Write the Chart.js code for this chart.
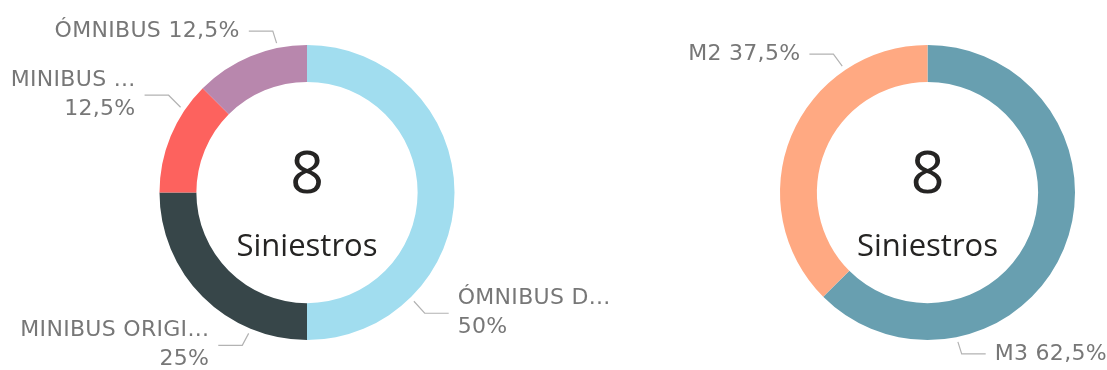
<!DOCTYPE html>
<html>
<head>
<meta charset="utf-8">
<script src="https://cdn.jsdelivr.net/npm/chart.js@4.4.1/dist/chart.umd.min.js"></script>
<style>
  html, body { margin: 0; padding: 0; background: #fff; }
  #wrap { position: relative; width: 1107px; height: 370px; }
  .box { position: absolute; top: 0; height: 370px; }
  #izq { left: 0; width: 614px; }
  #der { left: 614px; width: 493px; }
</style>
</head>
<body>
<div id="wrap">
  <div class="box" id="izq"><canvas id="tipoChart"></canvas></div>
  <div class="box" id="der"><canvas id="categoriaChart"></canvas></div>
</div>
<script>
// Siniestros por tipo de vehículo
const tiposVehiculo = ['ÓMNIBUS D...', 'MINIBUS ORIGI...', 'MINIBUS ...', 'ÓMNIBUS'];
const siniestrosTipo = [4, 2, 1, 1];
const coloresTipo = ['#A1DDEF', '#374649', '#FD625E', '#B887AD'];

// Siniestros por categoría
const categorias = ['M3', 'M2'];
const siniestrosCategoria = [5, 3];
const coloresCategoria = ['#689FB0', '#FFA982'];

const textoCentro = 'Siniestros';

// posición de las etiquetas: ángulo del conector (grados desde arriba, horario),
// lado del texto y si va partida en dos líneas
const etiquetasTipo = [
  { ang: 135.5, lado: 1, dos: true },
  { ang: 202.5, lado: -1, dos: true },
  { ang: 304, lado: -1, dos: true },
  { ang: 348.5, lado: -1, dos: false }
];
const etiquetasCategoria = [
  { ang: 168.5, lado: 1, dos: false },
  { ang: 326, lado: -1, dos: false }
];

const fmtPct = v => (Math.round(v * 10) / 10).toString().replace('.', ',') + '%';

// conectores y etiquetas de porcentaje
const etiquetasPlugin = {
  id: 'etiquetas',
  afterDatasetsDraw(chart, args, opts) {
    const ctx = chart.ctx;
    const meta = chart.getDatasetMeta(0);
    const datos = chart.data.datasets[0].data;
    const total = datos.reduce((a, b) => a + b, 0);
    ctx.save();
    meta.data.forEach((arc, i) => {
      const cfg = opts.conf[i];
      const a = cfg.ang * Math.PI / 180;
      const r0 = arc.outerRadius + 5;
      const x0 = arc.x + Math.sin(a) * r0;
      const y0 = arc.y - Math.cos(a) * r0;
      const baja = Math.cos(a) < 0 ? 1 : -1;
      const x1 = x0 + (Math.sin(a) > 0 ? 1 : -1) * Math.min(12, Math.abs(Math.sin(a)) * 14 + 1);
      const y1 = y0 + baja * 12;
      const x2 = x1 + cfg.lado * 24;
      ctx.strokeStyle = '#B3B3B3';
      ctx.lineWidth = 1.2;
      ctx.beginPath();
      ctx.moveTo(x0, y0);
      ctx.lineTo(x1, y1);
      ctx.lineTo(x2, y1);
      ctx.stroke();

      const pct = fmtPct(datos[i] / total * 100);
      const nombre = chart.data.labels[i];
      ctx.fillStyle = '#777777';
      ctx.font = '22px "DejaVu Sans", sans-serif';
      ctx.letterSpacing = '0.3px';
      ctx.textAlign = cfg.lado > 0 ? 'left' : 'right';
      ctx.textBaseline = 'middle';
      const xt = x2 + cfg.lado * 9;
      if (cfg.dos) {
        ctx.fillText(nombre, xt, y1 - 15);
        ctx.fillText(pct, xt, y1 + 14);
      } else {
        ctx.fillText(nombre + ' ' + pct, xt, y1);
      }
    });
    ctx.restore();
  }
};

// total en el centro del anillo
const centroPlugin = {
  id: 'centro',
  afterDraw(chart) {
    const ctx = chart.ctx;
    const arc = chart.getDatasetMeta(0).data[0];
    const total = chart.data.datasets[0].data.reduce((a, b) => a + b, 0);
    ctx.save();
    ctx.fillStyle = '#252423';
    ctx.textAlign = 'center';
    ctx.textBaseline = 'middle';
    ctx.font = '59px "Open Sans", "Noto Sans", sans-serif';
    ctx.fillText(String(total), arc.x, arc.y - 16);
    ctx.font = '31px "Open Sans", "Noto Sans", sans-serif';
    ctx.fillText(textoCentro, arc.x, arc.y + 55);
    ctx.restore();
  }
};

function anillo(id, labels, data, colores, conf, padding) {
  return new Chart(document.getElementById(id), {
    type: 'doughnut',
    data: {
      labels: labels,
      datasets: [{
        data: data,
        backgroundColor: colores,
        borderWidth: 0
      }]
    },
    options: {
      responsive: true,
      maintainAspectRatio: false,
      animation: false,
      cutout: '75%',
      layout: { padding: padding },
      plugins: {
        legend: { display: false },
        tooltip: { enabled: false },
        etiquetas: { conf: conf }
      }
    },
    plugins: [etiquetasPlugin, centroPlugin]
  });
}

const tipoChart = anillo('tipoChart', tiposVehiculo, siniestrosTipo, coloresTipo, etiquetasTipo,
  { top: 45, bottom: 30, left: 0, right: 0 });
const categoriaChart = anillo('categoriaChart', categorias, siniestrosCategoria, coloresCategoria, etiquetasCategoria,
  { top: 45, bottom: 30, left: 166, right: 32 });
</script>
</body>
</html>
